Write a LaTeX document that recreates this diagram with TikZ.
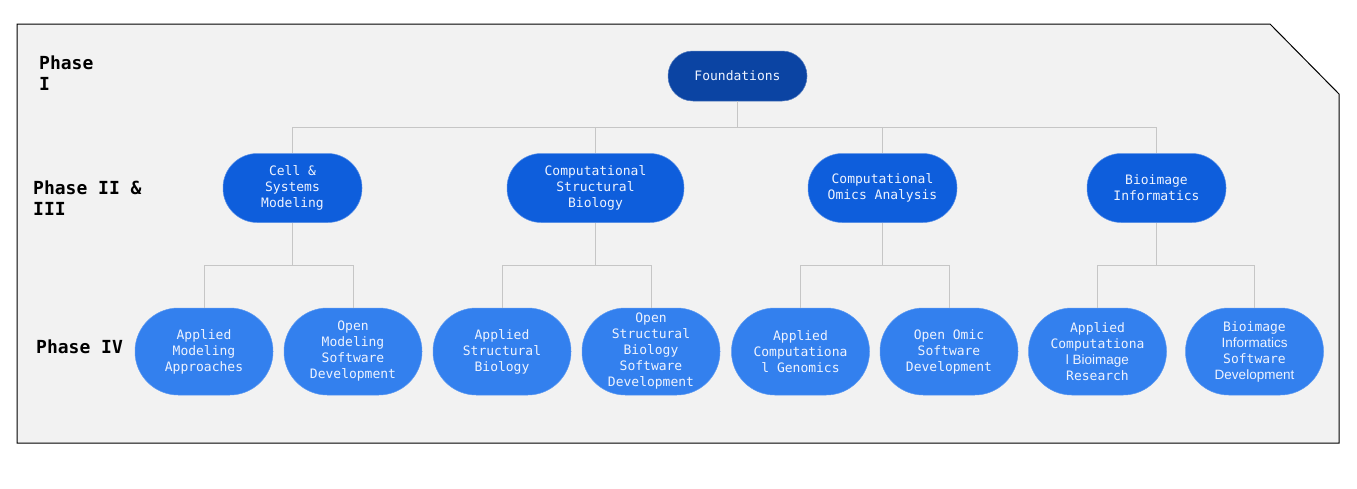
\documentclass[tikz,border=0pt]{standalone}
\usepackage{fontspec}
\newfontfamily\mono{DejaVu Sans Mono}
\newfontfamily\propsans{Liberation Sans}
\newfontfamily\monob{DejaVu Sans Mono Bold}
\newcommand{\ps}[1]{{\propsans\fontsize{13.5}{16}\selectfont #1}}
\definecolor{bg}{HTML}{F2F2F2}
\definecolor{cone}{HTML}{0B44A3}
\definecolor{ctwo}{HTML}{0E5EDC}
\definecolor{cthree}{HTML}{3380EE}
\definecolor{txt}{HTML}{EEF3FF}
\definecolor{lin}{HTML}{C6C6C6}
\tikzset{
  pill/.style={rectangle, inner sep=0pt, align=center, text=txt, font=\mono\fontsize{13}{16}\selectfont},
  lvone/.style={pill, fill=cone, draw=cone!70!white, line width=0.5pt, minimum width=139pt, minimum height=50pt, rounded corners=24.8pt},
  lvtwo/.style={pill, fill=ctwo, draw=ctwo!70!white, line width=0.5pt, minimum height=69pt, rounded corners=34.3pt},
  lvthree/.style={pill, fill=cthree, draw=cthree!80!white, line width=0.5pt, minimum width=138pt, minimum height=87pt, rounded corners=43.3pt},
  phase/.style={inner sep=0pt, align=left, anchor=base west, font=\monob\fontsize{18}{21}\selectfont},
  conn/.style={draw=lin, line width=1pt},
}
\begin{document}
\begin{tikzpicture}[x=1pt,y=-1pt]
\useasboundingbox (0,0) rectangle (1357,488);
\draw[fill=bg, line width=1pt] (17,24) -- (1270,24) -- (1339,94) -- (1339,443) -- (17,443) -- cycle;

\node[phase] (p1) at (39,90) {Phase\\I};
\node[phase] (p2) at (33,215) {Phase II \&\\III};
\node[phase] (p3) at (36,353) {Phase IV};

\node[lvone] (F) at (737.5,76) {Foundations};

\node[lvtwo, minimum width=139pt] (A) at (292.5,188) {Cell \&\\Systems\\Modeling};
\node[lvtwo, minimum width=177pt] (B) at (595.5,188) {Computational\\Structural\\Biology};
\node[lvtwo, minimum width=149pt] (C) at (882.5,188) {Computational\\Omics Analysis};
\node[lvtwo, minimum width=139pt] (D) at (1156.5,188) {Bioimage\\Informatics};

\node[lvthree] (A1) at (204,351.5) {Applied\\Modeling\\Approaches};
\node[lvthree] (A2) at (353,351.5) {Open\\Modeling\\Software\\Development};
\node[lvthree] (B1) at (502,351.5) {Applied\\Structural\\Biology};
\node[lvthree] (B2) at (651,351.5) {Open\\Structural\\Biology\\Software\\Development};
\node[lvthree] (C1) at (800.5,351.5) {Applied\\Computationa\\l Genomics};
\node[lvthree] (C2) at (949,351.5) {Open Omic\\Software\\Development};
\node[lvthree] (D1) at (1097.5,351.5) {Applied\\Computationa\\\ps{l Bioimage}\\Research};
\node[lvthree] (D2) at (1254.5,351.5) {Bioimage\\\ps{Informatics}\\Software\\\ps{Development}};

\foreach \c in {A,B,C,D} \draw[conn] (F.south) -- ++(0,26) -| (\c.north);
\foreach \p in {A,B,C,D} {
  \draw[conn] (\p.south) -- ++(0,43) -| (\p1.north);
  \draw[conn] (\p.south) -- ++(0,43) -| (\p2.north);
}
\end{tikzpicture}
\end{document}
